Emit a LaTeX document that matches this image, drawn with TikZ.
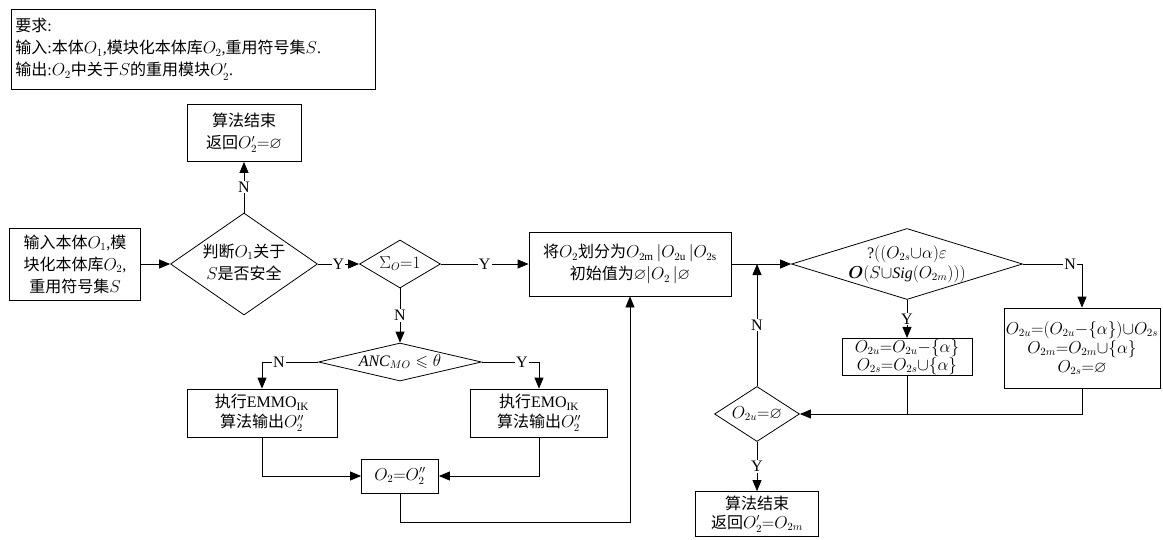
\documentclass[tikz,border=0pt]{standalone}
\usepackage{amsmath,amssymb}
\usepackage{fontspec}
\setmainfont{Liberation Serif}
\newfontfamily\cjkfont{Noto Sans CJK SC}
\newcommand{\zh}[1]{{\cjkfont #1}}
% 菱形里的文字不撑大形状
\newcommand{\flatbox}[1]{\makebox[0pt]{\raisebox{-.25em}[0pt][0pt]{\begin{tabular}{@{}c@{}}#1\end{tabular}}}}
\usetikzlibrary{arrows.meta,shapes.geometric,positioning,calc}
\tikzset{every picture/.style={line width=0.8pt}}

\begin{document}
\begin{tikzpicture}[x=1pt,y=-1pt,
    font=\fontsize{16}{22}\selectfont,
    box/.style={draw,align=center,inner sep=2pt},
    dia/.style={draw,diamond,inner sep=0pt},
    arr/.style={-{Triangle[length=11pt,width=9pt]}},
    lbl/.style={fill=white,inner sep=1pt}]
    \useasboundingbox (0,0) rectangle (1163,539);

    % 要求
    \node[draw,anchor=north west,align=left,text width=356pt,inner xsep=4pt,minimum height=80pt] (req) at (11,9)
        {\zh{要求}:\\
         \zh{输入}:\zh{本体}$O_1$,\zh{模块化本体库}$O_2$,\zh{重用符号集}$S$.\\
         \zh{输出}:$O_2$\zh{中关于}$S$\zh{的重用模块}$O_2'$.};

    % 输入与安全性判断
    \node[box,minimum width=131pt,minimum height=72pt] (in) at (75,264)
        {\zh{输入本体}$O_1$,\zh{模}\\\zh{块化本体库}$O_2$,\\\zh{重用符号集}$S$};
    \node[dia,minimum width=147pt,minimum height=102pt] (d1) at (244,264)
        {\flatbox{\zh{判断}$O_1$\zh{关于}\\$S$\zh{是否安全}}};
    \node[box,minimum width=114pt,minimum height=57pt] (end1) at (244,133)
        {\zh{算法结束}\\\zh{返回}$O_2'{=}\varnothing$};
    \node[dia,minimum width=81pt,minimum height=48pt] (d2) at (400,264)
        {\flatbox{$\Sigma_O{=}1$}};

    % 划分
    \node[box,minimum width=202pt,minimum height=64pt] (part) at (630,264)
        {\zh{将}$O_2$\zh{划分为}$O_{2\mathrm{m}}\,|O_{2\mathrm{u}}\,|O_{2\mathrm{s}}$\\\zh{初始值为}$\varnothing|O_2\,|\varnothing$};
    \node[dia,minimum width=231pt,minimum height=71pt] (d4) at (907,264)
        {\flatbox{?$((O_{2s}{\cup}\alpha)\varepsilon$\\[-2pt]$\boldsymbol{O}(S{\cup}\mathit{Sig}(O_{2m})))$}};
    \node[box,minimum width=130pt,minimum height=37pt,inner sep=1pt] (ybox) at (907,357)
        {$O_{2u}{=}O_{2u}{-}\{\alpha\}$\\[-4pt]$O_{2s}{=}O_{2s}{\cup}\{\alpha\}$};
    \node[box,minimum width=156pt,minimum height=80pt] (rbox) at (1082,348)
        {$O_{2u}{=}(O_{2u}{-}\{\alpha\}){\cup}O_{2s}$\\[-3pt]$O_{2m}{=}O_{2m}{\cup}\{\alpha\}$\\[-3pt]$O_{2s}{=}\varnothing$};
    \node[dia,minimum width=85pt,minimum height=55pt] (d5) at (757,414)
        {\flatbox{$O_{2u}{=}\varnothing$}};
    \node[box,minimum width=123pt,minimum height=45pt,inner sep=1pt] (end2) at (757,514)
        {\zh{算法结束}\\[-3pt]\zh{返回}$O_2'{=}O_{2m}$};

    % 抽取算法
    \node[dia,minimum width=163pt,minimum height=38pt] (d3) at (400,362)
        {\flatbox{$\mathit{ANC}_{MO}\leqslant\theta$}};
    \node[box,minimum width=150pt,minimum height=48pt] (emmo) at (262,413)
        {\zh{执行}EMMO\textsubscript{IK}\\[-2pt]\zh{算法输出}$O_2''$};
    \node[box,minimum width=137pt,minimum height=48pt] (emo) at (539,413)
        {\zh{执行}EMO\textsubscript{IK}\\[-2pt]\zh{算法输出}$O_2''$};
    \node[box,minimum width=77pt,minimum height=34pt] (o2) at (400,476) {$O_2{=}O_2''$};

    % 连线
    \draw[arr] (in) -- (d1);
    \draw[arr] (d1) -- node[lbl]{N} (end1);
    \draw[arr] (d1) -- node[lbl]{Y} (d2);
    \draw[arr] (d2) -- node[lbl]{Y} (part);
    \draw[arr] (part) -- (d4);
    \draw[arr] (d4) -- node[lbl]{Y} (ybox);
    \draw[arr] (d4) -| node[lbl,pos=.4]{N} (rbox);
    \draw (ybox) -- (ybox |- d5);
    \draw[arr] (rbox) |- (d5);
    \draw[arr] (d5) -- node[lbl]{N} (d5 |- part.east);
    \draw[arr] (d5) -- node[lbl]{Y} (end2);
    \draw[arr] (d2) -- node[lbl]{N} (d3);
    \draw[arr] (d3) -| node[lbl,pos=.35]{N} (emmo);
    \draw[arr] (d3) -| node[lbl,pos=.35]{Y} (emo);
    \draw[arr] (emmo) |- (o2);
    \draw[arr] (emo) |- (o2);
    \draw[arr] (o2.south) -- ++(0,29) -| (part.south);
\end{tikzpicture}
\end{document}
